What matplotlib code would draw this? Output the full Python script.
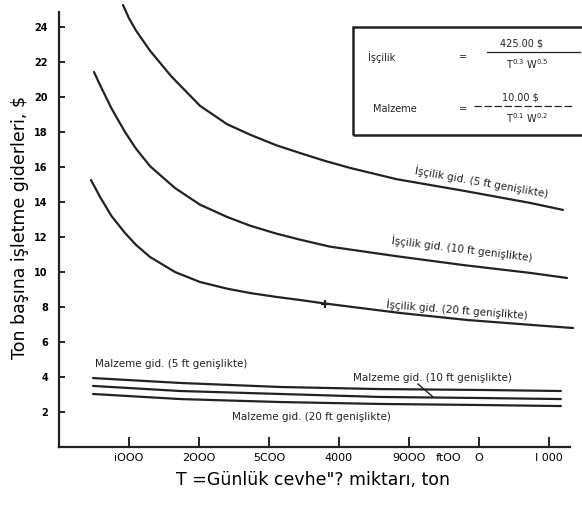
import matplotlib.pyplot as plt
from matplotlib.patches import Rectangle

# daily ore tonnage (T)
t_lab5 = [914, 1000, 1100, 1300, 1600, 2014, 2400, 2729, 3100, 3443, 3800,
          4157, 4829, 5771, 6729, 7200]
lab5 = [25.26, 24.50, 23.80, 22.65, 21.20, 19.50, 18.45, 17.85, 17.25, 16.80,
        16.35, 15.95, 15.30, 14.65, 13.95, 13.55]

t_lab10 = [500, 586, 750, 943, 1100, 1300, 1657, 2014, 2400, 2729, 3100, 3443,
           3871, 4829, 5771, 6729, 7257]
lab10 = [21.43, 20.69, 19.35, 18.00, 17.05, 16.05, 14.80, 13.85, 13.15, 12.65,
         12.20, 11.85, 11.45, 10.90, 10.40, 9.95, 9.66]

t_lab20 = [457, 586, 750, 943, 1100, 1300, 1657, 2014, 2400, 2729, 3100, 3443,
           3800, 4871, 5829, 6771, 7343]
lab20 = [15.26, 14.29, 13.20, 12.23, 11.55, 10.86, 10.00, 9.43, 9.05, 8.80,
         8.58, 8.40, 8.20, 7.66, 7.26, 6.97, 6.80]

t_mat = [486, 1729, 3157, 4586, 6014, 7170]
mat5 = [3.94, 3.66, 3.43, 3.31, 3.26, 3.20]
mat10 = [3.49, 3.20, 3.03, 2.86, 2.80, 2.74]
mat20 = [3.03, 2.74, 2.57, 2.46, 2.40, 2.34]

y_ticks = [2, 4, 6, 8, 10, 12, 14, 16, 18, 20, 22, 24]
x_ticks = [1000, 2000, 3000, 4000, 5000, 6000, 7000]
x_ticklabels = ["iOOO", "2OOO", "5COO", "4000", "9OOO", "O", "I 000"]

W, H = 582, 507


def fx(px):
    return px / W


def fy(py):
    return 1 - py / H


fig = plt.figure(figsize=(W / 100, H / 100), dpi=100)
ax = fig.add_axes([fx(59), fy(447), (570 - 59) / W, (447 - 12) / H])
ax.set_xlim(0, 7300)
ax.set_ylim(0, 24.86)

for s in ("top", "right"):
    ax.spines[s].set_visible(False)
for s in ("left", "bottom"):
    ax.spines[s].set_linewidth(1.6)
    ax.spines[s].set_color("#222222")

line_kw = dict(color="#222222", lw=1.6, clip_on=False,
               solid_capstyle="round", solid_joinstyle="round")
ax.plot(t_lab5, lab5, **line_kw)
ax.plot(t_lab10, lab10, **line_kw)
ax.plot(t_lab20, lab20, **line_kw)
ax.plot(t_mat, mat5, **line_kw)
ax.plot(t_mat, mat10, **line_kw)
ax.plot(t_mat, mat20, **line_kw)
ax.plot([3800], [8.20], marker="+", ms=6, mew=1.6, color="#222222")

ax.set_yticks(y_ticks)
ax.set_yticklabels([str(v) for v in y_ticks], fontweight="bold", fontsize=7)
ax.tick_params(axis="y", direction="in", length=4, width=1.2, pad=8)
ax.set_xticks(x_ticks)
ax.set_xticklabels(x_ticklabels, fontsize=8)
ax.tick_params(axis="x", direction="in", length=7, width=1.2, pad=4)
ax.set_xticks([5570], ["ftOO"], minor=True)
ax.tick_params(axis="x", which="minor", length=0, pad=4, labelsize=8)

lab_kw = dict(fontsize=7.5, color="#222222", rotation_mode="anchor",
              ha="center", va="center")
ax.text(6043, 15.14, "İşçilik gid. (5 ft genişlikte)", rotation=-10, **lab_kw)
ax.text(5757, 11.31, "İşçilik gid. (10 ft genişlikte)", rotation=-7, **lab_kw)
ax.text(5686, 7.83, "İşçilik gid. (20 ft genişlikte)", rotation=-4.5, **lab_kw)

mk = dict(fontsize=7.5, color="#222222", ha="left", va="center")
ax.text(514, 4.74, "Malzeme gid. (5 ft genişlikte)", **mk)
ax.text(4200, 3.94, "Malzeme gid. (10 ft genişlikte)", **mk)
ax.text(2471, 1.71, "Malzeme gid. (20 ft genişlikte)", **mk)
ax.plot([5129, 5343], [3.60, 2.86], color="#222222", lw=1.0)

# cost formula box in the top right corner
box = Rectangle((fx(353), fy(135)), fx(600) - fx(353), fy(27) - fy(135),
                transform=fig.transFigure, fill=False, lw=1.8,
                edgecolor="#222222", clip_on=False)
fig.patches.append(box)

bk = dict(fontsize=7, color="#222222", va="center")
fig.text(fx(368), fy(57), "İşçilik", ha="left", **bk)
fig.text(fx(463), fy(57), "=", ha="center", **bk)
fig.text(fx(522), fy(44), "425.00 $", ha="center", **bk)
fig.text(fx(527), fy(64), r"T$^{0.3}$ W$^{0.5}$", ha="center", **bk)
fig.add_artist(plt.Line2D([fx(487), fx(580)], [fy(52), fy(52)],
                          transform=fig.transFigure, color="#222222", lw=0.9))
fig.text(fx(373), fy(109), "Malzeme", ha="left", **bk)
fig.text(fx(463), fy(109), "=", ha="center", **bk)
fig.text(fx(520), fy(98), "10.00 $", ha="center", **bk)
fig.text(fx(527), fy(118), r"T$^{0.1}$ W$^{0.2}$", ha="center", **bk)
fig.add_artist(plt.Line2D([fx(474), fx(573)], [fy(106), fy(106)],
                          transform=fig.transFigure, color="#222222", lw=0.9,
                          ls=(0, (6, 2))))

fig.text(fx(20), fy(227), "Ton başına işletme giderleri, $", rotation=90,
         ha="center", va="center", fontsize=12.5)
fig.text(fx(313), fy(480), 'T =Günlük cevhe"? miktarı, ton',
         ha="center", va="center", fontsize=12.5)

fig.savefig("out.png", dpi=100)
